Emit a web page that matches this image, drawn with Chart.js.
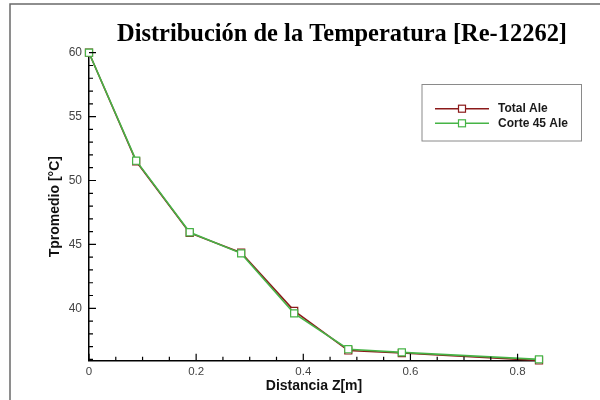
<!DOCTYPE html>
<html>
<head>
<meta charset="utf-8">
<script src="https://cdn.jsdelivr.net/npm/chart.js@4.4.1/dist/chart.umd.min.js"></script>
<style>
  html, body { margin: 0; padding: 0; background: #fff; }
  #wrap { width: 600px; height: 400px; }
</style>
</head>
<body>
<div id="wrap"><canvas id="tempChart" width="600" height="400"></canvas></div>
<script>
// ===== DATA =====
var chartTitle = 'Distribución de la Temperatura [Re-12262]';
var xDist    = [0, 0.088, 0.188, 0.284, 0.383, 0.484, 0.584, 0.84];
var totalAle = [60, 51.5, 45.9, 44.35, 39.8, 36.7, 36.5, 35.92];
var corte45  = [60, 51.55, 45.95, 44.3, 39.6, 36.8, 36.55, 36.0];
var seriesNames = ['Total Ale', 'Corte 45 Ale'];
var xTicks = [0, 0.2, 0.4, 0.6, 0.8];
var yTicks = [40, 45, 50, 55, 60];
var xMinorStep = 0.05, yMinorStep = 1;

var RED = '#8b1a1a', GREEN = '#46b446';
var sansFont = "'Liberation Sans', Arial, sans-serif";

function toPts(ys) { return xDist.map(function(x, i) { return { x: x, y: ys[i] }; }); }

// frame + title drawn behind the chart
var framePlugin = {
  id: 'frame',
  beforeDraw: function(chart) {
    var c = chart.ctx;
    c.save();
    c.fillStyle = '#fff';
    c.fillRect(0, 0, chart.width, chart.height);
    c.strokeStyle = '#6a6a6a'; c.lineWidth = 1.5;
    c.beginPath(); c.moveTo(10, 400); c.lineTo(10, 4); c.lineTo(600, 4); c.stroke();
    // title (condensed serif)
    c.font = "bold 26px 'Liberation Serif', 'Times New Roman', serif";
    c.fillStyle = '#000'; c.textBaseline = 'alphabetic'; c.textAlign = 'center';
    var w = c.measureText(chartTitle).width, target = 450;
    c.translate(342, 41); c.scale(target / w, 1);
    c.fillText(chartTitle, 0, 0);
    c.restore();
  }
};

// inward major/minor ticks + boxed legend
var ticksLegendPlugin = {
  id: 'ticksLegend',
  afterDatasetsDraw: function(chart) {
    var c = chart.ctx, xs = chart.scales.x, ys = chart.scales.y, a = chart.chartArea;
    c.save();
    c.strokeStyle = '#000'; c.lineWidth = 1.2;
    c.beginPath();
    for (var v = xs.min; v <= xs.max + 1e-9; v += xMinorStep) {
      var px = xs.getPixelForValue(v);
      var major = xTicks.some(function(t) { return Math.abs(t - v) < 1e-6; });
      c.moveTo(px, a.bottom); c.lineTo(px, a.bottom - (major ? 7 : 4));
    }
    for (var y = Math.ceil(ys.min); y <= ys.max + 1e-9; y += yMinorStep) {
      var py = ys.getPixelForValue(y);
      var majY = yTicks.indexOf(y) >= 0;
      c.moveTo(a.left, py); c.lineTo(a.left + (majY ? 7 : 4), py);
    }
    c.stroke();

    // legend box
    c.strokeStyle = '#8a8a8a'; c.lineWidth = 1;
    c.strokeRect(422, 84.5, 159.5, 56.5);
    var rows = [108.7, 123.3];
    chart.data.datasets.forEach(function(ds, i) {
      var ry = rows[i];
      c.strokeStyle = ds.borderColor; c.lineWidth = 1.5;
      c.beginPath(); c.moveTo(435, ry); c.lineTo(489, ry); c.stroke();
      c.fillStyle = '#fff'; c.lineWidth = 1.2;
      c.fillRect(458.5, ry - 3.5, 7, 7); c.strokeRect(458.5, ry - 3.5, 7, 7);
      c.fillStyle = '#1a1a1a'; c.font = 'bold 12px ' + sansFont;
      c.textAlign = 'left'; c.textBaseline = 'middle';
      c.fillText(ds.label, 498, ry);
    });
    c.restore();
  }
};

new Chart(document.getElementById('tempChart').getContext('2d'), {
  type: 'line',
  data: { datasets: [
    { label: seriesNames[0], data: toPts(totalAle), borderColor: RED, backgroundColor: '#fff', borderWidth: 1.6,
      pointStyle: 'rect', pointRadius: 5, pointBorderWidth: 1.2, pointBackgroundColor: '#fff', pointBorderColor: RED, order: 1, tension: 0 },
    { label: seriesNames[1], data: toPts(corte45), borderColor: GREEN, backgroundColor: '#fff', borderWidth: 1.6,
      pointStyle: 'rect', pointRadius: 5, pointBorderWidth: 1.2, pointBackgroundColor: '#fff', pointBorderColor: GREEN, order: 0, tension: 0 }
  ]},
  options: {
    responsive: false, animation: false, clip: false,
    layout: { padding: { left: 0, top: 52.7, right: 61, bottom: 0 } },
    plugins: { legend: { display: false }, tooltip: { enabled: false }, title: { display: false } },
    scales: {
      x: {
        type: 'linear', min: 0, max: 0.84,
        afterBuildTicks: function(s) { s.ticks = xTicks.map(function(v) { return { value: v }; }); },
        afterFit: function(s) { s.height = 39.3; },
        grid: { display: false, drawTicks: false },
        border: { display: true, color: '#000', width: 1.5 },
        ticks: { padding: 4, color: '#444', font: { family: sansFont, size: 11.5 }, callback: function(v) { return String(v); } },
        title: { display: true, text: 'Distancia Z[m]', color: '#111', padding: { top: 0, bottom: 5.6 },
          font: { family: sansFont, size: 14, weight: 'bold' } }
      },
      y: {
        type: 'linear', min: 35.9, max: 60,
        afterBuildTicks: function(s) { s.ticks = yTicks.map(function(v) { return { value: v }; }); },
        afterFit: function(s) { s.width = 89; },
        grid: { display: false, drawTicks: false },
        border: { display: true, color: '#000', width: 1.5 },
        ticks: { padding: 7, color: '#444', font: { family: sansFont, size: 12 } },
        title: { display: true, text: 'Tpromedio [°C]', color: '#111', padding: { top: 46.6, bottom: 0 },
          font: { family: sansFont, size: 14, weight: 'bold' } }
      }
    }
  },
  plugins: [framePlugin, ticksLegendPlugin]
});
</script>
</body>
</html>
